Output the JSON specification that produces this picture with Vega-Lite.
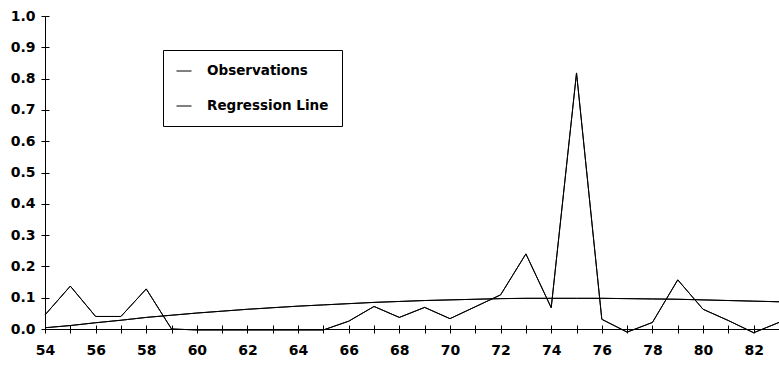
{
  "$schema": "https://vega.github.io/schema/vega-lite/v6.json",
  "width": 734,
  "height": 313,
  "autosize": "none",
  "padding": {"left": 45, "top": 16, "right": 0, "bottom": 39},
  "background": "white",
  "config": {"view": {"stroke": null}, "font": "DejaVu Sans"},
  "data": {"values": [
    {"year": 54, "series": "Observations", "v": 0.045},
    {"year": 55, "series": "Observations", "v": 0.137},
    {"year": 56, "series": "Observations", "v": 0.04},
    {"year": 57, "series": "Observations", "v": 0.04},
    {"year": 58, "series": "Observations", "v": 0.128},
    {"year": 59, "series": "Observations", "v": 0.0},
    {"year": 60, "series": "Observations", "v": -0.003},
    {"year": 61, "series": "Observations", "v": -0.003},
    {"year": 62, "series": "Observations", "v": -0.003},
    {"year": 63, "series": "Observations", "v": -0.003},
    {"year": 64, "series": "Observations", "v": -0.003},
    {"year": 65, "series": "Observations", "v": -0.003},
    {"year": 66, "series": "Observations", "v": 0.025},
    {"year": 67, "series": "Observations", "v": 0.072},
    {"year": 68, "series": "Observations", "v": 0.037},
    {"year": 69, "series": "Observations", "v": 0.069},
    {"year": 70, "series": "Observations", "v": 0.033},
    {"year": 71, "series": "Observations", "v": 0.071},
    {"year": 72, "series": "Observations", "v": 0.109},
    {"year": 73, "series": "Observations", "v": 0.24},
    {"year": 74, "series": "Observations", "v": 0.068},
    {"year": 75, "series": "Observations", "v": 0.818},
    {"year": 76, "series": "Observations", "v": 0.031},
    {"year": 77, "series": "Observations", "v": -0.01},
    {"year": 78, "series": "Observations", "v": 0.021},
    {"year": 79, "series": "Observations", "v": 0.157},
    {"year": 80, "series": "Observations", "v": 0.063},
    {"year": 81, "series": "Observations", "v": 0.027},
    {"year": 82, "series": "Observations", "v": -0.012},
    {"year": 83, "series": "Observations", "v": 0.021},
    {"year": 54, "series": "Regression Line", "v": 0.004},
    {"year": 55, "series": "Regression Line", "v": 0.011},
    {"year": 56, "series": "Regression Line", "v": 0.02},
    {"year": 57, "series": "Regression Line", "v": 0.028},
    {"year": 58, "series": "Regression Line", "v": 0.037},
    {"year": 59, "series": "Regression Line", "v": 0.044},
    {"year": 60, "series": "Regression Line", "v": 0.051},
    {"year": 61, "series": "Regression Line", "v": 0.057},
    {"year": 62, "series": "Regression Line", "v": 0.063},
    {"year": 63, "series": "Regression Line", "v": 0.068},
    {"year": 64, "series": "Regression Line", "v": 0.073},
    {"year": 65, "series": "Regression Line", "v": 0.077},
    {"year": 66, "series": "Regression Line", "v": 0.081},
    {"year": 67, "series": "Regression Line", "v": 0.085},
    {"year": 68, "series": "Regression Line", "v": 0.088},
    {"year": 69, "series": "Regression Line", "v": 0.091},
    {"year": 70, "series": "Regression Line", "v": 0.093},
    {"year": 71, "series": "Regression Line", "v": 0.095},
    {"year": 72, "series": "Regression Line", "v": 0.097},
    {"year": 73, "series": "Regression Line", "v": 0.098},
    {"year": 74, "series": "Regression Line", "v": 0.098},
    {"year": 75, "series": "Regression Line", "v": 0.098},
    {"year": 76, "series": "Regression Line", "v": 0.098},
    {"year": 77, "series": "Regression Line", "v": 0.097},
    {"year": 78, "series": "Regression Line", "v": 0.096},
    {"year": 79, "series": "Regression Line", "v": 0.095},
    {"year": 80, "series": "Regression Line", "v": 0.093},
    {"year": 81, "series": "Regression Line", "v": 0.091},
    {"year": 82, "series": "Regression Line", "v": 0.089},
    {"year": 83, "series": "Regression Line", "v": 0.087}
  ]},
  "layer": [
    {
      "mark": {"type": "line", "strokeWidth": 1, "clip": false},
      "encoding": {
        "x": {
          "field": "year", "type": "quantitative",
          "scale": {"domain": [54, 83], "nice": false, "zero": false},
          "axis": {
            "title": null,
            "orient": "bottom",
            "values": [54,55,56,57,58,59,60,61,62,63,64,65,66,67,68,69,70,71,72,73,74,75,76,77,78,79,80,81,82],
            "labelExpr": "datum.value % 2 == 0 ? datum.label : ''",
            "grid": false,
            "domainColor": "black",
            "tickColor": "black",
            "tickSize": 4,
            "labelPadding": 10,
            "labelFont": "DejaVu Sans",
            "labelFontWeight": "bold",
            "labelFontSize": 14,
            "labelColor": "black",
            "labelFlush": false,
            "labelOverlap": false
          }
        },
        "y": {
          "field": "v", "type": "quantitative",
          "scale": {"domain": [0, 1], "nice": false},
          "axis": {
            "title": null,
            "orient": "left",
            "values": [0,0.1,0.2,0.3,0.4,0.5,0.6,0.7,0.8,0.9,1.0],
            "format": ".1f",
            "grid": false,
            "domainColor": "black",
            "tickColor": "black",
            "tickSize": 4,
            "labelPadding": 6,
            "labelFont": "DejaVu Sans",
            "labelFontWeight": "bold",
            "labelFontSize": 14,
            "labelColor": "black",
            "labelFlush": false,
            "labelOverlap": false
          }
        },
        "color": {
          "field": "series", "type": "nominal",
          "scale": {"domain": ["Observations", "Regression Line"], "range": ["black", "black"]},
          "legend": {
            "title": null,
            "orient": "none",
            "legendX": 118,
            "legendY": 34,
            "direction": "vertical",
            "symbolType": "stroke",
            "symbolSize": 225,
            "symbolStrokeWidth": 1,
            "labelFont": "DejaVu Sans",
            "labelFontWeight": "bold",
            "labelFontSize": 13.5,
            "labelColor": "black",
            "labelOffset": 15,
            "labelLimit": 300,
            "rowPadding": 20,
            "padding": 13,
            "strokeColor": "black",
            "fillColor": "white"
          }
        }
      }
    },
    {
      "mark": {"type": "line", "strokeWidth": 1, "clip": false},
      "encoding": {
        "x": {
          "field": "year", "type": "quantitative",
          "scale": {"domain": [54, 83], "nice": false, "zero": false},
          "axis": {
            "title": null,
            "orient": "bottom",
            "values": [54,55,56,57,58,59,60,61,62,63,64,65,66,67,68,69,70,71,72,73,74,75,76,77,78,79,80,81,82],
            "labels": false,
            "domain": false,
            "grid": false,
            "tickColor": "black",
            "tickSize": -4
          }
        },
        "y": {
          "field": "v", "type": "quantitative",
          "scale": {"domain": [0, 1], "nice": false},
          "axis": {
            "title": null,
            "orient": "left",
            "values": [0,0.1,0.2,0.3,0.4,0.5,0.6,0.7,0.8,0.9,1.0],
            "labels": false,
            "domain": false,
            "grid": false,
            "tickColor": "black",
            "tickSize": -4
          }
        },
        "color": {
          "field": "series", "type": "nominal",
          "scale": {"domain": ["Observations", "Regression Line"], "range": ["black", "black"]}
        }
      }
    }
  ],
  "resolve": {"axis": {"x": "independent", "y": "independent"}}
}
